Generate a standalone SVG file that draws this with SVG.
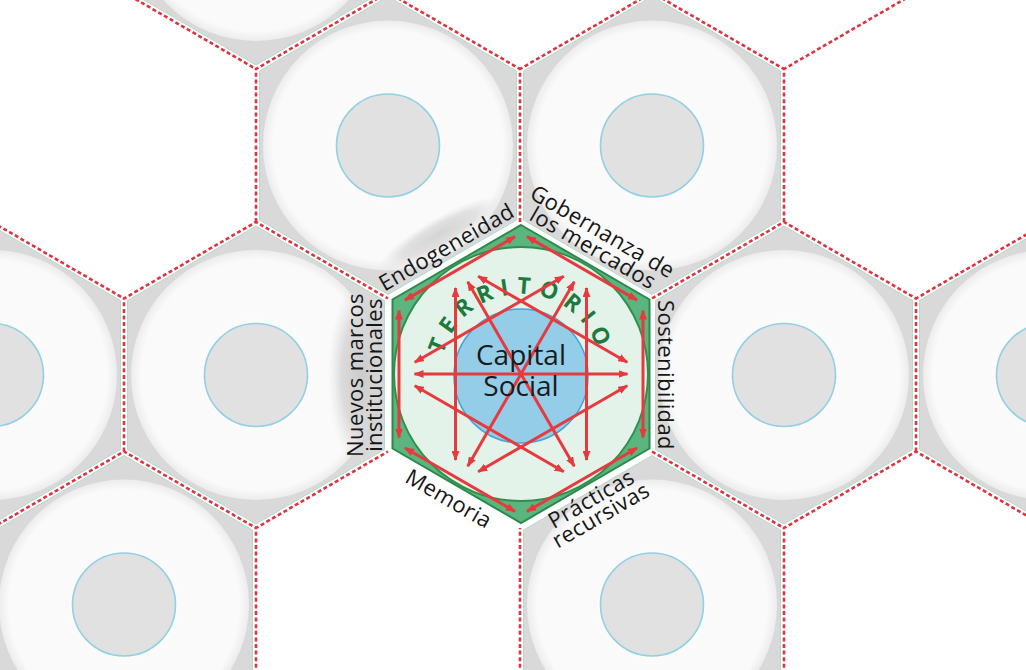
<svg xmlns="http://www.w3.org/2000/svg" width="1026" height="670" viewBox="0 0 1026 670">
<defs>
<style>
.cell{fill:#d9d9d9;stroke:#b3dbcb;stroke-width:1}
.ring{fill:url(#rg)}
.core{fill:#e1e1e1;stroke:#92d0e6;stroke-width:1.6}
.grid{fill:none;stroke:#e0333f;stroke-width:2.6;stroke-dasharray:4 2.6}
.lbl{font-family:"Open Sans","Liberation Sans",sans-serif;font-size:22px;fill:#161616;letter-spacing:0.4px;text-anchor:middle}
.arr{stroke:#e63a3f;stroke-width:3;fill:none;marker-start:url(#ah);marker-end:url(#ah)}
.shade{fill:url(#sg)}
</style>
<radialGradient id="rg" cx="0" cy="0" r="125" gradientUnits="userSpaceOnUse">
<stop offset="0" stop-color="#fbfbfb"/>
<stop offset="0.92" stop-color="#fafafa"/>
<stop offset="1" stop-color="#ececec"/>
</radialGradient>
<radialGradient id="sg">
<stop offset="0" stop-color="#c8c8c8" stop-opacity="0.95"/>
<stop offset="0.6" stop-color="#d0d0d0" stop-opacity="0.75"/>
<stop offset="1" stop-color="#dddddd" stop-opacity="0"/>
</radialGradient>
<clipPath id="clipUL"><polygon points="388,-3.5 516.5,70.5 516.5,219.5 388,294.5 259.5,219.5 259.5,70.5"/></clipPath>
<clipPath id="clipL"><polygon points="256,226 384.5,300.5 384.5,449.5 256,524"/></clipPath>
<g id="cellg">
<polygon class="cell" points="0,-149 128.5,-74.5 128.5,74.5 0,149 -128.5,74.5 -128.5,-74.5"/>
<circle r="125" class="ring"/>
<circle r="51.5" class="core"/>
</g>
<marker id="ah" viewBox="0 0 10 8" refX="9" refY="4" markerWidth="10" markerHeight="8" markerUnits="userSpaceOnUse" orient="auto-start-reverse">
<path d="M0,0 L10,4 L0,8 z" fill="#e63a3f"/>
</marker>
<path id="arc" d="M442.2,360.1 A80,80 0 0 1 599.8,360.1"/>
</defs>
<rect width="1026" height="670" fill="#ffffff"/>
<g id="cells">
<use href="#cellg" transform="translate(256,-84)"/>
<use href="#cellg" transform="translate(388,145.5)"/>
<use href="#cellg" transform="translate(652,145.5)"/>
<use href="#cellg" transform="translate(-8,375)"/>
<use href="#cellg" transform="translate(256,375)"/>
<use href="#cellg" transform="translate(784,375)"/>
<use href="#cellg" transform="translate(1048,375)"/>
<use href="#cellg" transform="translate(124,604.5)"/>
<use href="#cellg" transform="translate(652,604.5)"/>
</g>
<g id="shading">
<g clip-path="url(#clipL)"><ellipse class="shade" cx="362" cy="375" rx="34" ry="95"/></g>
<g clip-path="url(#clipUL)"><ellipse class="shade" transform="translate(454,260.25) rotate(-30)" cx="0" cy="-30" rx="70" ry="16" opacity="0.8"/></g>
</g>
<g id="grid" class="grid">
<path d="M124,-7.5 L256,69"/>
<path d="M256,222 V69 L388,-7.5 L520,69"/>
<path d="M520,222 V69 L652,-7.5 L784,69"/>
<path d="M784,222 V69 L916,-7.5"/>
<path d="M-8,222 L124,298.5"/>
<path d="M124,451.5 V298.5 L256,222 L388,298.5"/>
<path d="M652,298.5 L784,222 L916,298.5"/>
<path d="M916,451.5 V298.5 L1048,222"/>
<path d="M-8,528 L124,451.5 L256,528"/>
<path d="M256,681 V528 L388,451.5"/>
<path d="M520,681 V528"/>
<path d="M652,451.5 L784,528"/>
<path d="M784,681 V528 L916,451.5 L1048,528"/>
</g>
<g id="territorio">
<polygon points="521,225 649.5,299.5 649.5,448.5 521,523 392.5,448.5 392.5,299.5" fill="#5bb57e" stroke="#2b8a4a" stroke-width="2"/>
<circle cx="521" cy="374" r="127" fill="#e4f3e9" stroke="#2f8f4f" stroke-width="2"/>
<text font-family="Open Sans, Liberation Sans, sans-serif" font-size="23" font-weight="700" fill="#1d7a3e" letter-spacing="7.5"><textPath href="#arc" startOffset="50%" text-anchor="middle">TERRITORIO</textPath></text>
</g>
<g id="capital">
<circle cx="521" cy="376" r="67" fill="#93cde8" stroke="#4aa3d6" stroke-width="1.5"/>
</g>
<g id="connectors">
<line class="arr" x1="643" y1="310.5" x2="643" y2="437.5"/>
<line class="arr" x1="527" y1="236.6" x2="637" y2="300.1"/>
<line class="arr" x1="405" y1="300.1" x2="515" y2="236.6"/>
<line class="arr" x1="399" y1="310.5" x2="399" y2="437.5"/>
<line class="arr" x1="405" y1="448" x2="515" y2="511.4"/>
<line class="arr" x1="527" y1="511.4" x2="637" y2="448"/>
<line class="arr" x1="414.5" y1="374" x2="627.5" y2="374"/>
<line class="arr" x1="467.75" y1="281.8" x2="574.25" y2="466.2"/>
<line class="arr" x1="574.25" y1="281.8" x2="467.75" y2="466.2"/>
<line class="arr" x1="455.5" y1="288" x2="455.5" y2="460"/>
<line class="arr" x1="586.5" y1="288" x2="586.5" y2="460"/>
<line class="arr" x1="414.8" y1="362.3" x2="563.8" y2="276.3"/>
<line class="arr" x1="627.2" y1="362.3" x2="478.2" y2="276.3"/>
<line class="arr" x1="414.8" y1="385.7" x2="563.8" y2="471.7"/>
<line class="arr" x1="627.2" y1="385.7" x2="478.2" y2="471.7"/>
</g>
<g id="capital-label" font-family="Open Sans, Liberation Sans, sans-serif" font-size="28" fill="#1a1a1a" text-anchor="middle">
<text x="521" y="365">Capital</text>
<text x="521" y="396">Social</text>
</g>
<g id="labels">
<text class="lbl" transform="translate(454,260.25) rotate(-30)" y="-7.5">Endogeneidad</text>
<text class="lbl" transform="translate(586,260.25) rotate(30)"><tspan x="0" y="-25.5">Gobernanza de</tspan><tspan x="0" y="-6.5">los mercados</tspan></text>
<text class="lbl" transform="translate(652,375) rotate(90)" y="-6">Sostenibilidad</text>
<text class="lbl" transform="translate(586,489.75) rotate(-30)"><tspan x="0" y="18">Prácticas</tspan><tspan x="0" y="37">recursivas</tspan></text>
<text class="lbl" transform="translate(454,489.75) rotate(30)" y="18">Memoria</text>
<text class="lbl" transform="translate(388,375) rotate(-90)"><tspan x="0" y="-25">Nuevos marcos</tspan><tspan x="0" y="-6">institucionales</tspan></text>
</g>
</svg>
